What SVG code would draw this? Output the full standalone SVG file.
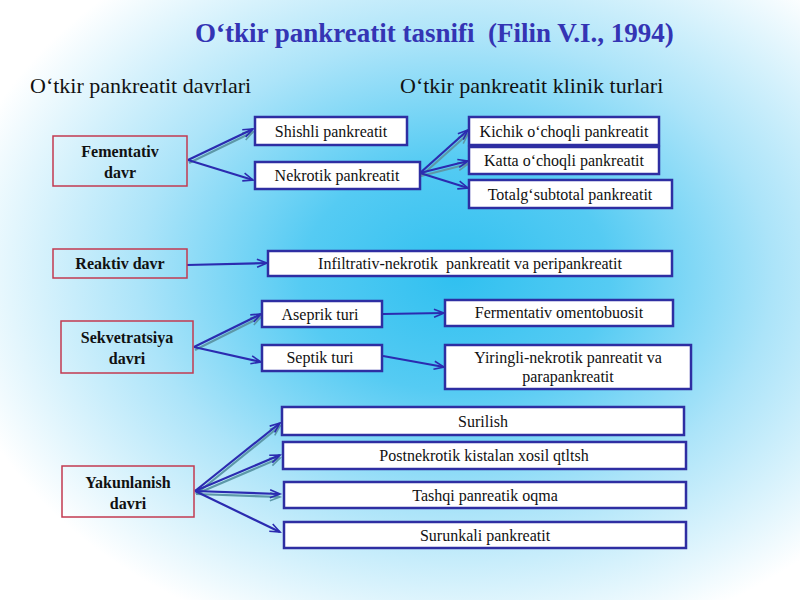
<svg xmlns="http://www.w3.org/2000/svg" width="800" height="600" viewBox="0 0 800 600">
<defs>
<radialGradient id="bg" cx="0.57" cy="0.46" r="0.64">
<stop offset="0" stop-color="#30c0f0"/>
<stop offset="0.3" stop-color="#55cbf3"/>
<stop offset="0.62" stop-color="#ace4f9"/>
<stop offset="1" stop-color="#ffffff"/>
</radialGradient>
<marker id="ah" markerUnits="userSpaceOnUse" markerWidth="14" markerHeight="12" refX="11" refY="5" orient="auto" viewBox="0 0 14 10">
<path d="M1,1 L11,5 L1,9" fill="none" stroke="#2b2bb0" stroke-width="1.6"/>
</marker>
<marker id="ahs" markerUnits="userSpaceOnUse" markerWidth="14" markerHeight="12" refX="11" refY="5" orient="auto" viewBox="0 0 14 10">
<path d="M1,1 L11,5 L1,9" fill="none" stroke="#5d98a8" stroke-width="1.6"/>
</marker>
</defs>
<style>
.phase{fill:none;stroke:#c23a50;stroke-width:1.5}
.box{fill:#ffffff;stroke:#2e2ea2;stroke-width:2.5}
.pt{font-family:"Liberation Serif",serif;font-weight:bold;font-size:16px;fill:#111;text-anchor:middle}
.bt{font-family:"Liberation Serif",serif;font-size:16px;fill:#111;text-anchor:middle}
.hd{font-family:"Liberation Serif",serif;font-size:22px;fill:#111}
.title{font-family:"Liberation Serif",serif;font-weight:bold;font-size:27px;fill:#3434b4}
.c{fill:none;stroke:#2b2bb0;stroke-width:2.2;marker-end:url(#ah)}
.s{fill:none;stroke:#5d98a8;stroke-width:2.2;marker-end:url(#ahs)}
</style>
<rect x="0" y="0" width="800" height="600" fill="url(#bg)"/>

<text class="title" x="195" y="42" xml:space="preserve">O‘tkir pankreatit tasnifi  (Filin V.I., 1994)</text>
<text class="hd" x="30" y="93">O‘tkir pankreatit davrlari</text>
<text class="hd" x="400" y="93">O‘tkir pankreatit klinik turlari</text>

<g id="connectors">
<g id="shadows" transform="translate(1,3)">
<path class="s" d="M188,160 L252,129"/>
<path class="s" d="M420,173 L467,131"/>
<path class="s" d="M420,173 L467,161"/>
<path class="s" d="M194,347 L260,314"/>
<path class="s" d="M195,491 L279,423"/>
<path class="s" d="M195,491 L279,455"/>
<path class="s" d="M195,491 L279,494"/>
</g>
<path class="c" d="M188,160 L253,129"/>
<path class="c" d="M188,160 L253,180"/>
<path class="c" d="M420,173 L468,130"/>
<path class="c" d="M420,173 L468,161"/>
<path class="c" d="M420,173 L468,188"/>
<path class="c" d="M187,265 L267,263"/>
<path class="c" d="M194,347 L261,314"/>
<path class="c" d="M194,347 L261,362"/>
<path class="c" d="M383,314 L444,313"/>
<path class="c" d="M383,356 L444,367"/>
<path class="c" d="M195,491 L280,423"/>
<path class="c" d="M195,491 L280,455"/>
<path class="c" d="M195,491 L280,494"/>
<path class="c" d="M195,491 L280,532"/>
</g>

<g id="fementativ">
<rect class="phase" x="53" y="136" width="134" height="50"/>
<text class="pt" x="120" y="157">Fementativ</text>
<text class="pt" x="120" y="178">davr</text>
</g>
<g id="shishli">
<rect class="box" x="255" y="117" width="152" height="28"/>
<text class="bt" x="331" y="137">Shishli pankreatit</text>
</g>
<g id="nekrotik">
<rect class="box" x="255" y="162" width="165" height="27"/>
<text class="bt" x="337" y="181">Nekrotik pankreatit</text>
</g>
<g id="kichik">
<rect class="box" x="469" y="117" width="190" height="28"/>
<text class="bt" x="564" y="137">Kichik o‘choqli pankreatit</text>
</g>
<g id="katta">
<rect class="box" x="469" y="147" width="190" height="27"/>
<text class="bt" x="564" y="166">Katta o‘choqli pankreatit</text>
</g>
<g id="totalg">
<rect class="box" x="469" y="180" width="203" height="28"/>
<text class="bt" x="570" y="200">Totalg‘subtotal pankreatit</text>
</g>

<g id="reaktiv">
<rect class="phase" x="53" y="249" width="134" height="29"/>
<text class="pt" x="120" y="269">Reaktiv davr</text>
</g>
<g id="infiltrativ">
<rect class="box" x="268" y="251" width="404" height="25"/>
<text class="bt" x="470" y="269" xml:space="preserve">Infiltrativ-nekrotik  pankreatit va peripankreatit</text>
</g>

<g id="sekvetratsiya">
<rect class="phase" x="61" y="321" width="132" height="52"/>
<text class="pt" x="127" y="343">Sekvetratsiya</text>
<text class="pt" x="127" y="364">davri</text>
</g>
<g id="aseprik">
<rect class="box" x="262" y="301" width="120" height="26"/>
<text class="bt" x="320" y="320">Aseprik turi</text>
</g>
<g id="septik">
<rect class="box" x="262" y="345" width="120" height="26"/>
<text class="bt" x="320" y="363">Septik turi</text>
</g>
<g id="omento">
<rect class="box" x="445" y="300" width="228" height="26"/>
<text class="bt" x="559" y="318">Fermentativ omentobuosit</text>
</g>
<g id="yiringli">
<rect class="box" x="445" y="345" width="246" height="44"/>
<text class="bt" x="568" y="363">Yiringli-nekrotik panreatit va</text>
<text class="bt" x="568" y="382">parapankreatit</text>
</g>

<g id="yakunlanish">
<rect class="phase" x="62" y="466" width="132" height="51"/>
<text class="pt" x="128" y="488">Yakunlanish</text>
<text class="pt" x="128" y="509">davri</text>
</g>
<g id="surilish">
<rect class="box" x="282" y="407" width="402" height="28"/>
<text class="bt" x="483" y="427">Surilish</text>
</g>
<g id="postnekrotik">
<rect class="box" x="283" y="442" width="403" height="27"/>
<text class="bt" x="484" y="461">Postnekrotik kistalan xosil qtltsh</text>
</g>
<g id="tashqi">
<rect class="box" x="284" y="482" width="402" height="26"/>
<text class="bt" x="485" y="501">Tashqi panreatik oqma</text>
</g>
<g id="surunkali">
<rect class="box" x="284" y="522" width="402" height="26"/>
<text class="bt" x="485" y="541">Surunkali pankreatit</text>
</g>
</svg>
